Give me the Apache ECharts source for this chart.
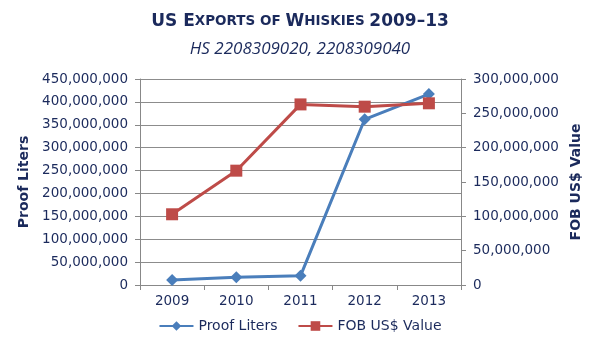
<!DOCTYPE html>
<html><head><meta charset="utf-8">
<script src="https://cdn.jsdelivr.net/npm/echarts@6/dist/echarts.min.js"></script>
<style>html,body{margin:0;padding:0;background:#fff}#c{width:600px;height:360px}</style>
</head><body><div id="c"></div>
<script>
const categories = ['2009', '2010', '2011', '2012', '2013'];
const proofLiters = [11000000, 17000000, 20000000, 362000000, 417000000];
const fobValue = [103000000, 166500000, 263000000, 259700000, 264600000];
const seriesNames = ['Proof Liters', 'FOB US$ Value'];

const navy = '#1b2a5c';
const fmt = v => v.toLocaleString('en-US');
const chart = echarts.init(document.getElementById('c'));
chart.setOption({
  animation: false,
  title: [{
    text: '{b|US E}{s|XPORTS OF }{b|W}{s|HISKIES }{b|2009–13}',
    left: 'center', top: 8,
    textStyle: {
      rich: {
        b: {fontFamily: 'DejaVu Sans', fontWeight: 'bold', fontSize: 17, color: navy},
        s: {fontFamily: 'DejaVu Sans', fontWeight: 'bold', fontSize: 13.5, color: navy}
      }
    }
  }, {
    text: 'HS 2208309020, 2208309040',
    left: 'center', top: 36,
    textStyle: {fontFamily: 'Open Sans', fontStyle: 'italic', fontWeight: 'normal', fontSize: 17, color: navy}
  }],
  grid: {left: 140, right: 139, top: 79, bottom: 75},
  legend: {
    bottom: 22, left: 'center', itemWidth: 34, itemHeight: 12, itemGap: 20,
    textStyle: {fontFamily: 'DejaVu Sans', fontSize: 14, color: navy},
    data: seriesNames
  },
  xAxis: {
    type: 'category', data: categories, boundaryGap: true,
    axisLine: {lineStyle: {color: '#888', width: 1}},
    axisTick: {show: true, length: 5, lineStyle: {color: '#888'}},
    axisLabel: {fontFamily: 'DejaVu Sans', fontSize: 13.5, color: navy, margin: 9}
  },
  yAxis: [{
    type: 'value', min: 0, max: 450000000, interval: 50000000,
    name: 'Proof Liters', nameLocation: 'middle', nameGap: 99, nameRotate: 90,
    nameTextStyle: {fontFamily: 'DejaVu Sans', fontWeight: 'bold', fontSize: 14, color: navy},
    axisLine: {show: true, lineStyle: {color: '#888'}},
    axisTick: {show: true, length: 5, lineStyle: {color: '#888'}},
    axisLabel: {fontFamily: 'DejaVu Sans', fontSize: 13.5, color: navy, margin: 12, formatter: fmt},
    splitLine: {lineStyle: {color: '#8c8c8c', width: 1}}
  }, {
    type: 'value', min: 0, max: 300000000, interval: 50000000, position: 'right',
    name: 'FOB US$ Value', nameLocation: 'middle', nameGap: 101, nameRotate: 90,
    nameTextStyle: {fontFamily: 'DejaVu Sans', fontWeight: 'bold', fontSize: 14, color: navy},
    axisLine: {show: true, lineStyle: {color: '#888'}},
    axisTick: {show: true, length: 5, lineStyle: {color: '#888'}},
    axisLabel: {fontFamily: 'DejaVu Sans', fontSize: 13.5, color: navy, margin: 12, formatter: fmt},
    splitLine: {show: false}
  }],
  series: [{
    name: seriesNames[0], type: 'line', yAxisIndex: 0, data: proofLiters,
    symbol: 'diamond', symbolSize: 12,
    lineStyle: {color: '#4a7ebb', width: 3},
    itemStyle: {color: '#4a7ebb'}
  }, {
    name: seriesNames[1], type: 'line', yAxisIndex: 1, data: fobValue,
    symbol: 'rect', symbolSize: 12,
    lineStyle: {color: '#be4b48', width: 3},
    itemStyle: {color: '#be4b48'}
  }]
});
</script></body></html>
